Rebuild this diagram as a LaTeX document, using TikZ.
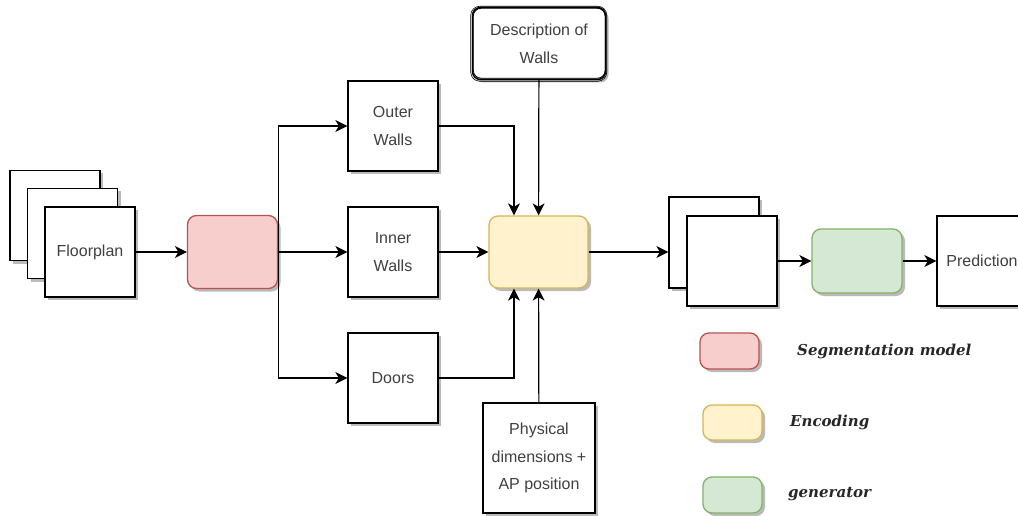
\documentclass[tikz,border=0pt]{standalone}
\usepackage{fontspec}
\setmainfont{Liberation Sans}
\newfontfamily\legfont{DejaVu Serif}
\usetikzlibrary{arrows.meta,shadows}
\definecolor{txt}{HTML}{404040}
\definecolor{redf}{HTML}{F8CECC}\definecolor{redd}{HTML}{B85450}
\definecolor{yelf}{HTML}{FFF2CC}\definecolor{yeld}{HTML}{D6B656}
\definecolor{grnf}{HTML}{D5E8D4}\definecolor{grnd}{HTML}{82B366}
\begin{document}
\begin{tikzpicture}[x=1pt,y=-1pt,
  shad/.style={drop shadow={shadow xshift=3pt,shadow yshift=-3pt,fill=black!45,opacity=0.6}},
  box/.style={draw=black,line width=1.3pt,fill=white,minimum width=90pt,minimum height=90pt,
    inner sep=0pt,font=\fontsize{16}{27.5}\selectfont,text=txt,align=center,shad},
  proc/.style={draw=#1d,fill=#1f,line width=1.3pt,rounded corners=9pt,inner sep=0pt,shad},
  arr/.style={line width=1.2pt,-{Stealth[length=12pt,width=12pt,inset=3.5pt]}},
  leg/.style={font=\legfont\bfseries\itshape\fontsize{15}{18}\selectfont,text=black!85,anchor=west,inner sep=0pt}]
\useasboundingbox[fill=white] (0,0) rectangle (1018,516);
% floorplan stack
\node[box] (fp3) at (55,215.5) {};
\node[box] (fp2) at (72.5,233.5) {};
\node[box] (fp1) at (90,252) {Floorplan};
% segmentation
\node[proc=red,minimum width=90pt,minimum height=73pt] (seg) at (232.5,252) {};
% parts
\node[box] (outer) at (393,126) {Outer\\Walls};
\node[box] (inner) at (393,252) {Inner\\Walls};
\node[box] (doors) at (393,378) {Doors};
% description
\node[draw=black,line width=1.5pt,fill=white,rounded corners=8pt,minimum width=133pt,minimum height=72pt,
  inner sep=0pt,font=\fontsize{16}{28}\selectfont,text=txt,align=center,shad] (desc) at (539,43.5) {Description of\\Walls};
\draw[line width=0.8pt,rounded corners=8pt] ([shift={(1.5,1.5)}]desc.north west) rectangle ([shift={(-1,-2)}]desc.south east);
\draw[line width=0.6pt,rounded corners=9pt] ([shift={(-1,-0.5)}]desc.north west) rectangle ([shift={(0.5,1)}]desc.south east);
% encoding
\node[proc=yel,minimum width=99pt,minimum height=72pt] (enc) at (538.5,252) {};
% physical
\node[box,minimum width=112pt,minimum height=110pt] (phys) at (539,458) {Physical\\dimensions +\\AP position};
% output stack
\node[box,minimum height=91pt] (st2) at (714,242.5) {};
\node[box] (st1) at (732,261) {};
\node[proc=grn,minimum width=90pt,minimum height=64pt] (gen) at (857,261) {};
\node[box] (pred) at (982,261) {Prediction};
% connectors
\draw[arr] (fp1) -- (seg);
\draw[arr] (seg.east) |- (outer);
\draw[arr] (seg) -- (inner);
\draw[arr] (seg.east) |- (doors);
\draw[arr] (outer.east) -| ([xshift=-24.5pt]enc.north);
\draw[arr] (desc) -- (enc);
\draw[arr] (inner) -- (enc);
\draw[arr] (doors.east) -| ([xshift=-24.5pt]enc.south);
\draw[arr] (phys) -- (enc);
\draw[arr] (enc.east) -- (enc.east -| st2.west);
\draw[arr] (st1) -- (gen);
\draw[arr] (gen) -- (pred);
% legend
\node[proc=red,minimum width=59pt,minimum height=36pt] (lr) at (729.5,351) {};
\node[proc=yel,minimum width=59pt,minimum height=35pt] (ly) at (732.5,422.5) {};
\node[proc=grn,minimum width=59pt,minimum height=36pt] (lg) at (732.5,495) {};
\node[leg] (tr) at (797,351) {Segmentation model};
\node[leg] (ty) at (790,422) {Encoding};
\node[leg] (tg) at (788,494) {generator};
\end{tikzpicture}
\end{document}
